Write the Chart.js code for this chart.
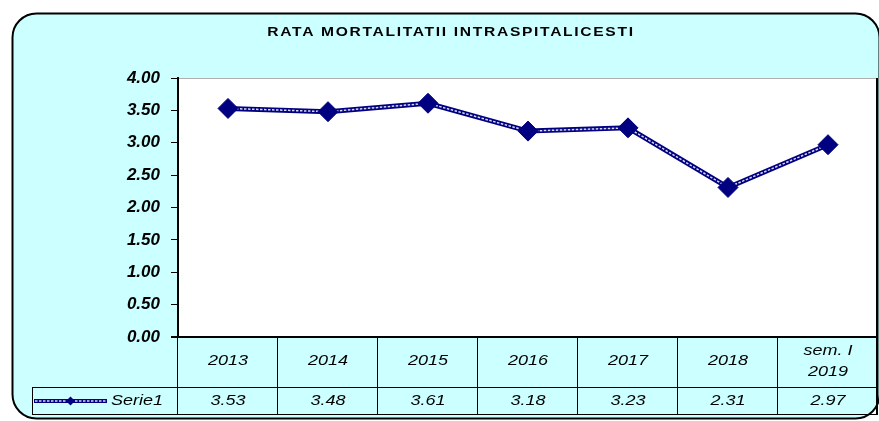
<!DOCTYPE html>
<html>
<head>
<meta charset="utf-8">
<script src="https://cdn.jsdelivr.net/npm/chart.js@4"></script>
<style>
  body { margin: 0; background: #fff; }
  canvas { display: block; }
</style>
</head>
<body>
<canvas id="chart" width="879" height="421"></canvas>
<script>
// Chart data
const chartTitle = 'RATA MORTALITATII INTRASPITALICESTI';
const seriesName = 'Serie1';
const categories = ['2013', '2014', '2015', '2016', '2017', '2018', ['sem. I', '2019']];
const serie1 = [3.53, 3.48, 3.61, 3.18, 3.23, 2.31, 2.97];
const yMin = 0;
const yMax = 4;
const yStep = 0.5;

const FONT = '"Liberation Sans", Arial, sans-serif';
const NAVY = '#000080';
const CHAIN = '#d8d8f4';

// text stretched horizontally like the original export
function wideText(ctx, text, cx, cy) {
    ctx.save();
    ctx.translate(cx, cy);
    ctx.scale(1.2, 1);
    ctx.fillText(text, 0, 0);
    ctx.restore();
}

const backdrop = {
    id: 'backdrop',
    beforeDraw(chart) {
        const ctx = chart.ctx;
        const area = chart.chartArea;
        ctx.save();
        ctx.fillStyle = '#ffffff';
        ctx.fillRect(0, 0, chart.width, chart.height);
        ctx.beginPath();
        ctx.roundRect(12.5, 13.5, 867, 405, 24);
        ctx.fillStyle = '#ccffff';
        ctx.fill();
        ctx.lineWidth = 2;
        ctx.strokeStyle = '#000';
        ctx.stroke();
        ctx.fillStyle = '#ffffff';
        ctx.fillRect(area.left, area.top, area.right - area.left, area.bottom - area.top);
        // plot area top and right edges
        ctx.lineWidth = 1;
        ctx.strokeStyle = '#b0b0b0';
        ctx.beginPath();
        ctx.moveTo(area.left, area.top + 0.5);
        ctx.lineTo(area.right, area.top + 0.5);
        ctx.stroke();
        ctx.strokeStyle = '#000';
        ctx.lineWidth = 2;
        ctx.beginPath();
        ctx.moveTo(area.right - 1, area.top);
        ctx.lineTo(area.right - 1, area.bottom);
        ctx.stroke();
        ctx.restore();
    },
    afterDraw(chart) {
        const ctx = chart.ctx;
        const area = chart.chartArea;
        const x = chart.scales.x;
        ctx.save();

        // title
        ctx.fillStyle = '#000';
        ctx.font = 'bold 13px ' + FONT;
        ctx.letterSpacing = '1.4px';
        ctx.textAlign = 'center';
        ctx.textBaseline = 'middle';
        wideText(ctx, chartTitle, 451, 32);
        ctx.letterSpacing = '0px';

        // data table
        const band = x.getPixelForValue(1) - x.getPixelForValue(0);
        const rowTop = area.bottom;
        const rowMid = 387;
        const rowBottom = 414;
        const tableLeft = 32;

        ctx.strokeStyle = '#000';
        ctx.lineWidth = 1;
        ctx.beginPath();
        for (let i = 0; i < categories.length; i++) {
            const bx = Math.round(x.getPixelForValue(0) - band / 2 + i * band) - 0.5;
            ctx.moveTo(bx, rowTop);
            ctx.lineTo(bx, rowBottom);
        }
        ctx.moveTo(tableLeft, rowMid + 0.5);
        ctx.lineTo(area.right, rowMid + 0.5);
        ctx.moveTo(tableLeft, rowBottom + 0.5);
        ctx.lineTo(area.right, rowBottom + 0.5);
        ctx.moveTo(tableLeft + 0.5, rowMid);
        ctx.lineTo(tableLeft + 0.5, rowBottom);
        ctx.stroke();

        // right edge and bottom axis line
        ctx.lineWidth = 2;
        ctx.beginPath();
        ctx.moveTo(area.right - 1, rowTop);
        ctx.lineTo(area.right - 1, rowBottom);
        ctx.moveTo(area.left - 7, area.bottom);
        ctx.lineTo(area.right, area.bottom);
        ctx.stroke();

        ctx.font = 'italic 15px ' + FONT;
        ctx.textAlign = 'center';
        ctx.textBaseline = 'middle';
        ctx.fillStyle = '#000';
        categories.forEach((cat, i) => {
            const cx = x.getPixelForValue(i);
            if (Array.isArray(cat)) {
                wideText(ctx, cat[0], cx, 351);
                wideText(ctx, cat[1], cx, 372);
            } else {
                wideText(ctx, cat, cx, 361);
            }
        });
        serie1.forEach((v, i) => {
            wideText(ctx, v.toFixed(2), x.getPixelForValue(i), 401);
        });

        // legend key
        ctx.strokeStyle = NAVY;
        ctx.lineWidth = 4;
        ctx.beginPath();
        ctx.moveTo(34, 401);
        ctx.lineTo(107, 401);
        ctx.stroke();
        ctx.strokeStyle = CHAIN;
        ctx.lineWidth = 1.5;
        ctx.setLineDash([2.5, 1.5]);
        ctx.beginPath();
        ctx.moveTo(35, 401);
        ctx.lineTo(106, 401);
        ctx.stroke();
        ctx.setLineDash([]);
        ctx.fillStyle = NAVY;
        ctx.beginPath();
        ctx.moveTo(66, 401);
        ctx.lineTo(70.5, 396.5);
        ctx.lineTo(75, 401);
        ctx.lineTo(70.5, 405.5);
        ctx.closePath();
        ctx.fill();
        ctx.fillStyle = '#000';
        ctx.textAlign = 'left';
        wideText(ctx, seriesName, 111, 401);

        ctx.restore();
    }
};

const canvas = document.getElementById('chart');

new Chart(canvas, {
    type: 'line',
    data: {
        labels: categories,
        datasets: [{
            // solid navy body of the line
            label: seriesName,
            data: serie1,
            borderColor: NAVY,
            borderWidth: 5,
            pointRadius: 0,
            tension: 0,
            order: 3
        }, {
            // light chain pattern inside the line
            label: seriesName + ' chain',
            data: serie1,
            borderColor: CHAIN,
            borderWidth: 1.5,
            borderDash: [2.5, 1.5],
            pointRadius: 0,
            tension: 0,
            order: 2
        }, {
            // diamond markers
            label: seriesName + ' points',
            data: serie1,
            showLine: false,
            pointStyle: 'rectRot',
            pointRadius: 10,
            pointHoverRadius: 10,
            pointBackgroundColor: NAVY,
            pointBorderColor: NAVY,
            pointBorderWidth: 1,
            order: 1
        }]
    },
    options: {
        responsive: false,
        animation: false,
        layout: { autoPadding: false, padding: { left: 0, top: 78, right: 1, bottom: 84 } },
        plugins: {
            legend: { display: false },
            title: { display: false },
            tooltip: { enabled: false }
        },
        scales: {
            x: {
                type: 'category',
                offset: true,
                display: false
            },
            y: {
                min: yMin,
                max: yMax,
                afterFit(scale) { scale.width = 178; },
                ticks: {
                    stepSize: yStep,
                    padding: 11,
                    color: '#000',
                    font: { family: FONT, size: 17, style: 'italic', weight: 'bold' },
                    callback: v => v.toFixed(2)
                },
                grid: {
                    drawOnChartArea: false,
                    drawTicks: true,
                    tickLength: 7,
                    color: '#000'
                },
                border: { display: true, color: '#000', width: 2 }
            }
        }
    },
    plugins: [backdrop]
});
</script>
</body>
</html>
